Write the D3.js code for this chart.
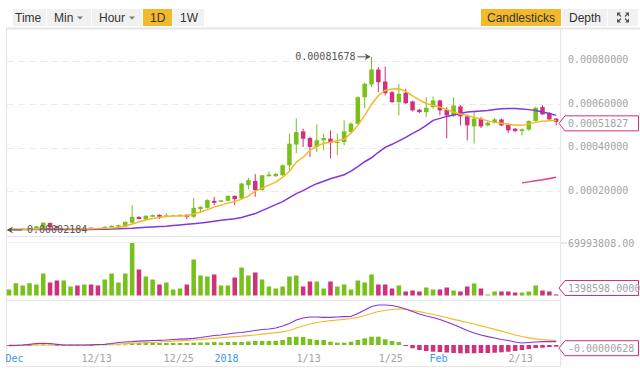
<!DOCTYPE html>
<html>
<head>
<meta charset="utf-8">
<script src="https://cdnjs.cloudflare.com/ajax/libs/d3/7.8.5/d3.min.js"></script>
<style>
  body { margin: 0; background: #fff; }
  svg { display: block; }
  .mono { font-family: "DejaVu Sans Mono", monospace; font-size: 10px; }
</style>
</head>
<body>
<svg id="chart" width="640" height="370"></svg>
<script>
// prices in 1e-8 (satoshi), one candle per day from 2017-12-01
const opens = [2250,2400,2500,2650,2950,3200,5400,3980,2700,2900,
  3100,2900,3200,3000,2950,3400,3700,3700,5500,8200,
  7050,8200,9150,8560,8700,8560,9150,8250,11750,12350,
  15550,15100,15550,17850,16650,22750,24700,20450,26850,26850,
  27300,31900,41400,47450,44400,40300,43350,44100,42100,42550,
  47150,51000,63150,68950,75850,70350,65450,60900,65200,61200,
  57400,56300,58600,61650,57400,54800,58900,54350,49750,53300,
  50200,51450,52950,50650,48700,47600,48250,52200,58600,55850,
  53300];
const highs = [2450,2700,2900,3100,4000,5700,5600,4100,3100,3200,
  3200,3300,3300,3100,3800,4200,4600,6100,13600,8400,
  8900,9200,9300,9800,9100,9300,9300,16800,13000,16300,
  17400,16000,18000,18000,23800,26100,27800,27500,29000,28300,
  32200,46500,53400,48700,45000,50650,46400,47900,46400,52500,
  51500,63500,69800,81678,77000,77200,66000,69300,67000,61600,
  57800,63150,63500,62000,58600,63150,59500,55000,56300,54000,
  52000,53500,53300,51000,49000,48800,52500,58800,59400,56300,
  53600];
const lows = [2184,2300,2400,2550,2900,3100,3300,2650,2600,2800,
  2800,2850,2900,2800,2900,3300,3600,3600,5400,7000,
  6900,8100,7200,8400,8600,8400,7200,7650,9900,12000,
  13600,15000,15400,13600,16500,20800,17400,20200,26700,26600,
  27100,29600,37400,40300,35700,38000,38800,35100,36500,41050,
  46800,50800,58000,67750,65450,63950,60500,54800,60000,56600,
  55800,54000,57800,54800,44250,54000,50200,43350,41850,49000,
  49800,51000,49800,46700,47000,45600,47800,52000,55000,52500,
  50200];
const closes = [2350,2550,2700,2900,3800,5500,3400,2750,3000,3100,
  2900,3200,3000,2900,3650,4100,4400,5900,8200,7200,
  8700,9000,8250,8900,8900,9150,8250,12350,12800,15900,
  14650,15750,17850,16350,23500,25050,20450,27300,27650,27900,
  31900,41800,47150,44100,40300,43350,44400,42100,42550,47450,
  51000,63150,69300,75850,70000,65000,60900,64700,60400,57100,
  56300,58300,61650,57100,54800,59350,54350,50200,53300,49750,
  51450,52950,50200,47900,47600,48400,52200,58300,55250,52950,
  51827];
const ma7 = [2380,2380,2380,2470,2610,2700,2840,2840,2790,2700,
  2610,2610,2700,2840,2930,3070,3300,3980,4900,5810,
  6730,7420,7870,8330,8560,8560,8700,9470,10390,11530,
  12680,13590,14510,15200,16340,17710,20000,21380,22750,24120,
  26410,29160,33280,35560,38770,40600,41970,42430,43120,43800,
  46550,50210,54790,59820,63940,66230,66920,67010,65770,63710,
  61880,60280,59360,58590,57530,56300,55470,54790,53870,53190,
  52270,51580,51130,50670,50300,50210,50900,51580,52130,52360,
  52500];
const ma25 = [2380,2380,2380,2380,2380,2380,2380,2380,2380,2380,
  2380,2380,2430,2470,2520,2610,2700,2840,2930,3160,
  3390,3570,3750,3890,4170,4440,4760,5080,5360,5720,
  6130,6590,6960,7280,7870,8790,9700,11080,12450,13820,
  15200,17030,18860,20230,21970,23430,24580,25720,26640,27550,
  29160,31220,33500,35330,37850,40140,41510,43120,44720,46550,
  48150,50210,52500,53410,54330,55020,55700,56300,56620,56850,
  57080,57530,57850,57900,57900,57760,57440,57080,56390,55700,
  54790];
const ma99From = 75;
const ma99 = [23800,24260,24810,25270,25810,26410];
const vols = [8000000,16400000,13330000,16400000,14660000,29330000,17330000,20000000,20000000,12000000,
  13330000,14660000,14660000,13330000,21330000,29330000,17330000,29330000,69993808,34660000,
  25330000,21330000,14660000,17330000,8000000,9330000,14660000,48000000,26660000,25330000,
  28000000,13330000,13330000,24000000,37330000,26660000,30660000,21330000,12000000,9330000,
  12000000,25330000,26660000,12000000,18660000,18660000,9330000,18660000,12000000,14660000,
  8000000,20000000,17330000,28000000,14660000,14660000,9330000,13330000,5330000,6660000,
  5330000,10660000,8000000,8000000,10660000,6660000,5330000,12000000,16000000,9330000,
  1330000,5330000,5330000,5330000,4000000,4000000,5330000,13330000,6660000,5330000,
  1398598];
// MACD in 1e-8
const dif = [-260,-190,0,260,560,630,560,260,0,0,
  0,0,70,190,260,560,930,1110,1220,1410,
  1550,1670,1740,1850,2040,2150,2290,2480,2780,3150,
  3520,3700,4070,4440,4630,5000,5370,5740,5920,6290,
  7030,7960,9250,9990,10360,10360,10250,10250,10360,10470,
  10550,11660,12950,14250,14800,14800,14620,14060,13320,12400,
  11470,10730,10180,9440,8510,7590,6480,5370,4440,3700,
  3070,2590,2040,1670,1110,740,930,1110,1220,1220,
  1220];
const dea = [0,0,0,0,0,0,0,0,0,0,
  0,0,0,70,190,300,370,480,630,740,
  850,1000,1110,1300,1410,1550,1700,1850,2070,2290,
  2480,2700,2890,3110,3260,3480,3700,4000,4290,4590,
  4880,5370,6290,7030,7770,8330,8700,8990,9250,9510,
  9810,10250,10920,11660,12400,12770,13140,13320,13140,12770,
  12320,11840,11290,10730,10180,9510,8950,8330,7770,7100,
  6480,5810,5110,4440,3700,3150,2660,2290,2000,1780,
  1590];
const hist = [-190,-190,-190,-190,190,190,190,-110,-110,-110,
  -110,-110,-110,190,190,190,190,190,560,740,
  740,740,740,740,740,740,740,850,930,930,
  1110,930,1110,1110,1110,1300,1480,1480,1480,1480,
  1850,2960,3070,2960,2220,1850,1850,1220,850,850,
  1220,1850,2480,3070,3070,2110,1480,1110,-370,-1220,
  -1850,-2220,-2480,-2590,-2780,-2960,-3070,-3070,-3070,-2960,
  -2960,-2850,-2700,-2480,-2220,-1850,-1480,-1110,-1000,-740,
  -628];
const priceTicks = [20000, 40000, 60000, 80000];
const volMax = 69993808;
const dateLabels = [
  {d: '2017-12-01', t: 'Dec', blue: true},
  {d: '2017-12-13', t: '12/13'},
  {d: '2017-12-25', t: '12/25'},
  {d: '2018-01-01', t: '2018', blue: true},
  {d: '2018-01-13', t: '1/13'},
  {d: '2018-01-25', t: '1/25'},
  {d: '2018-02-01', t: 'Feb', blue: true},
  {d: '2018-02-13', t: '2/13'}
];

const GREEN = '#77c11a', PINK = '#d1307a', YEL = '#f6b829', PUR = '#8435dc', MAG = '#df3c8e';
const GRAY = '#a3a3a3';

const svg = d3.select('#chart');
const days = d3.timeDay.range(new Date(2017, 11, 1), new Date(2018, 1, 20));
const fmtDay = d3.timeFormat('%Y-%m-%d');
const dayIdx = new Map(days.map((d, i) => [fmtDay(d), i]));

const x = d3.scaleBand().domain(days.map((d, i) => i))
  .range([5.6, 559.6]).paddingInner(0.34).paddingOuter(0.17);
const cx = i => x(i) + x.bandwidth() / 2;
const bw = x.bandwidth();

const yP = d3.scaleLinear().domain([0, 80000]).range([234.7, 60.5]);
const yV = d3.scaleLinear().domain([0, volMax]).range([295.5, 243]);
const yM = d3.scaleLinear().domain([0, 14800]).range([345, 305]);

// ---- toolbar
const tabs = [
  {t: 'Time', x: 13, w: 33, tx: 15},
  {t: 'Min', x: 47, w: 44, tx: 54, drop: 80},
  {t: 'Hour', x: 92, w: 50, tx: 99, drop: 132},
  {t: '1D', x: 143, w: 29, tx: 150, on: true},
  {t: '1W', x: 173, w: 31, tx: 180},
  {t: 'Candlesticks', x: 481, w: 80, tx: 487, on: true},
  {t: 'Depth', x: 562, w: 45, tx: 569},
  {t: '', x: 608, w: 30, icon: true}
];
const tb = svg.append('g');
tabs.forEach(b => {
  tb.append('rect').attr('x', b.x).attr('y', 9).attr('width', b.w).attr('height', 17)
    .attr('fill', b.on ? '#f3b92c' : '#f1f1f1');
  if (b.t) {
    tb.append('text').attr('x', b.tx).attr('y', 22)
      .style('font-family', '"Liberation Sans", Arial, sans-serif').style('font-size', '12px')
      .attr('fill', '#333').text(b.t);
  }
  if (b.drop) {
    tb.append('path').attr('d', `M${b.drop - 3},16.5 L${b.drop + 3},16.5 L${b.drop},19.5 Z`).attr('fill', '#777');
  }
  if (b.icon) {
    const c = [b.x + b.w / 2, 17.5];
    const g = tb.append('g').attr('fill', '#555');
    [[-1, -1], [1, -1], [-1, 1], [1, 1]].forEach(([sx, sy]) => {
      const ox = c[0] + sx * 6, oy = c[1] + sy * 5;
      g.append('path')
        .attr('d', `M${ox},${oy} L${ox - sx * 4},${oy} L${ox},${oy - sy * 4} Z`);
      g.append('line').attr('x1', ox - sx * 1).attr('y1', oy - sy * 1)
        .attr('x2', ox - sx * 4).attr('y2', oy - sy * 4)
        .attr('stroke', '#555').attr('stroke-width', 1.3);
    });
  }
});

// ---- frame
const frame = svg.append('g').attr('fill', 'none').attr('stroke', '#e6e6e6');
frame.append('line').attr('x1', 6).attr('x2', 640).attr('y1', 28.5).attr('y2', 28.5).attr('stroke-width', 2);
frame.append('line').attr('x1', 6.5).attr('x2', 6.5).attr('y1', 28).attr('y2', 367);
frame.append('line').attr('x1', 560.5).attr('x2', 560.5).attr('y1', 29).attr('y2', 367);
[236.5, 300.5, 366.5].forEach(y => frame.append('line').attr('x1', 6).attr('x2', 561).attr('y1', y).attr('y2', y));
frame.append('line').attr('x1', 6).attr('x2', 561).attr('y1', 242.5).attr('y2', 242.5).attr('stroke', '#f0f0f0');

// ---- price grid + axis
svg.append('g').selectAll('line').data(priceTicks).join('line')
  .attr('x1', 7).attr('x2', 560).attr('y1', d => Math.round(yP(d)) + 0.5).attr('y2', d => Math.round(yP(d)) + 0.5)
  .attr('stroke', '#ebebeb').attr('stroke-dasharray', '7,4');

const pAxis = svg.append('g').attr('transform', 'translate(561,0)')
  .call(d3.axisRight(yP).tickValues(priceTicks).tickSize(0).tickPadding(7)
    .tickFormat(d => (d / 1e8).toFixed(8)));
pAxis.select('.domain').remove();
pAxis.selectAll('text').attr('class', 'mono').attr('fill', GRAY).attr('dy', '0.2em');

// ---- candles
const candles = svg.append('g');
d3.range(days.length).forEach(i => {
  const up = closes[i] >= opens[i];
  const col = up ? GREEN : PINK;
  candles.append('line').attr('x1', cx(i)).attr('x2', cx(i))
    .attr('y1', yP(highs[i])).attr('y2', yP(lows[i])).attr('stroke', col).attr('stroke-width', 1);
  const y0 = yP(Math.max(opens[i], closes[i])), y1 = yP(Math.min(opens[i], closes[i]));
  candles.append('rect').attr('x', x(i)).attr('y', y0).attr('width', bw)
    .attr('height', Math.max(1, y1 - y0)).attr('fill', col);
});

// ---- moving averages
const maLine = d3.line().x(d => cx(d[0])).y(d => yP(d[1]));
svg.append('path').datum(ma25.map((v, i) => [i, v])).attr('d', maLine)
  .attr('fill', 'none').attr('stroke', PUR).attr('stroke-width', 1.5);
svg.append('path').datum(ma7.map((v, i) => [i, v])).attr('d', maLine)
  .attr('fill', 'none').attr('stroke', YEL).attr('stroke-width', 1.5);
svg.append('path').datum(ma99.map((v, i) => [i + ma99From, v])).attr('d', maLine)
  .attr('fill', 'none').attr('stroke', MAG).attr('stroke-width', 1.5);

// ---- max / min markers
const iMax = d3.maxIndex(highs), iMin = d3.minIndex(lows);
const mk = svg.append('g').attr('fill', '#555');
const yMax = yP(highs[iMax]);
mk.append('text').attr('class', 'mono').attr('x', cx(iMax) - 16).attr('y', yMax + 3.5)
  .attr('text-anchor', 'end').text((highs[iMax] / 1e8).toFixed(8));
mk.append('line').attr('x1', cx(iMax) - 14).attr('x2', cx(iMax) - 2).attr('y1', yMax).attr('y2', yMax)
  .attr('stroke', '#555');
mk.append('path').attr('d', `M${cx(iMax) - 1},${yMax} L${cx(iMax) - 7},${yMax - 3.5} L${cx(iMax) - 5},${yMax} L${cx(iMax) - 7},${yMax + 3.5} Z`);
const yMin = yP(lows[iMin]);
mk.append('line').attr('x1', cx(iMin) - 1).attr('x2', cx(iMin) + 13).attr('y1', yMin).attr('y2', yMin)
  .attr('stroke', '#555');
mk.append('path').attr('d', `M${cx(iMin) - 2},${yMin} L${cx(iMin) + 4},${yMin - 3.5} L${cx(iMin) + 2},${yMin} L${cx(iMin) + 4},${yMin + 3.5} Z`);
mk.append('text').attr('class', 'mono').attr('x', cx(iMin) + 18).attr('y', yMin + 3.5)
  .text((lows[iMin] / 1e8).toFixed(8));

// ---- volume
svg.append('g').selectAll('rect').data(vols).join('rect')
  .attr('x', (d, i) => x(i)).attr('width', bw)
  .attr('y', d => yV(d)).attr('height', d => yV(0) - yV(d))
  .attr('fill', (d, i) => closes[i] >= opens[i] ? GREEN : PINK);
svg.append('line').attr('x1', 561).attr('x2', 567).attr('y1', yV(volMax)).attr('y2', yV(volMax)).attr('stroke', '#ccc');
svg.append('text').attr('class', 'mono').attr('x', 568).attr('y', yV(volMax) + 3.5).attr('fill', GRAY)
  .text(volMax.toFixed(2));

// ---- MACD
svg.append('g').selectAll('rect').data(hist).join('rect')
  .attr('x', (d, i) => x(i)).attr('width', bw)
  .attr('y', d => Math.min(yM(d), yM(0))).attr('height', d => Math.max(0.8, Math.abs(yM(d) - yM(0))))
  .attr('fill', d => d >= 0 ? GREEN : PINK);
const mLine = d3.line().x((d, i) => cx(i)).y(d => yM(d));
svg.append('path').datum(dea).attr('d', mLine).attr('fill', 'none').attr('stroke', YEL).attr('stroke-width', 1.2);
svg.append('path').datum(dif).attr('d', mLine).attr('fill', 'none').attr('stroke', PUR).attr('stroke-width', 1.2);

// ---- value tags
function tag(y, label) {
  const g = svg.append('g');
  g.append('path').attr('d', `M559,${y} L565,${y - 7.5} L638.5,${y - 7.5} L638.5,${y + 7.5} L565,${y + 7.5} Z`)
    .attr('fill', '#fff').attr('stroke', PINK).attr('stroke-width', 1);
  g.append('text').attr('class', 'mono').attr('x', 568).attr('y', y + 3.5).attr('fill', GRAY).text(label);
}
const last = closes.length - 1;
tag(yP(closes[last]) + 1.5, (closes[last] / 1e8).toFixed(8));
tag(Math.min(yV(vols[last]), yV(0) - 7.5), vols[last].toFixed(4));
tag(yM(hist[last]) + 1.5, (hist[last] / 1e8).toFixed(8));

// ---- date axis
const xAxis = svg.append('g').attr('transform', 'translate(5,350)')
  .call(d3.axisBottom(d3.scaleLinear().domain([0, days.length - 1]).range([cx(0), cx(days.length - 1)]))
    .tickValues(dateLabels.map(d => dayIdx.get(d.d))).tickSize(0).tickPadding(5)
    .tickFormat((d, i) => dateLabels[i].t));
xAxis.select('.domain').remove();
xAxis.selectAll('text').attr('class', 'mono')
  .attr('fill', (d, i) => dateLabels[i].blue ? '#3a97e0' : GRAY);
</script>
</body>
</html>
